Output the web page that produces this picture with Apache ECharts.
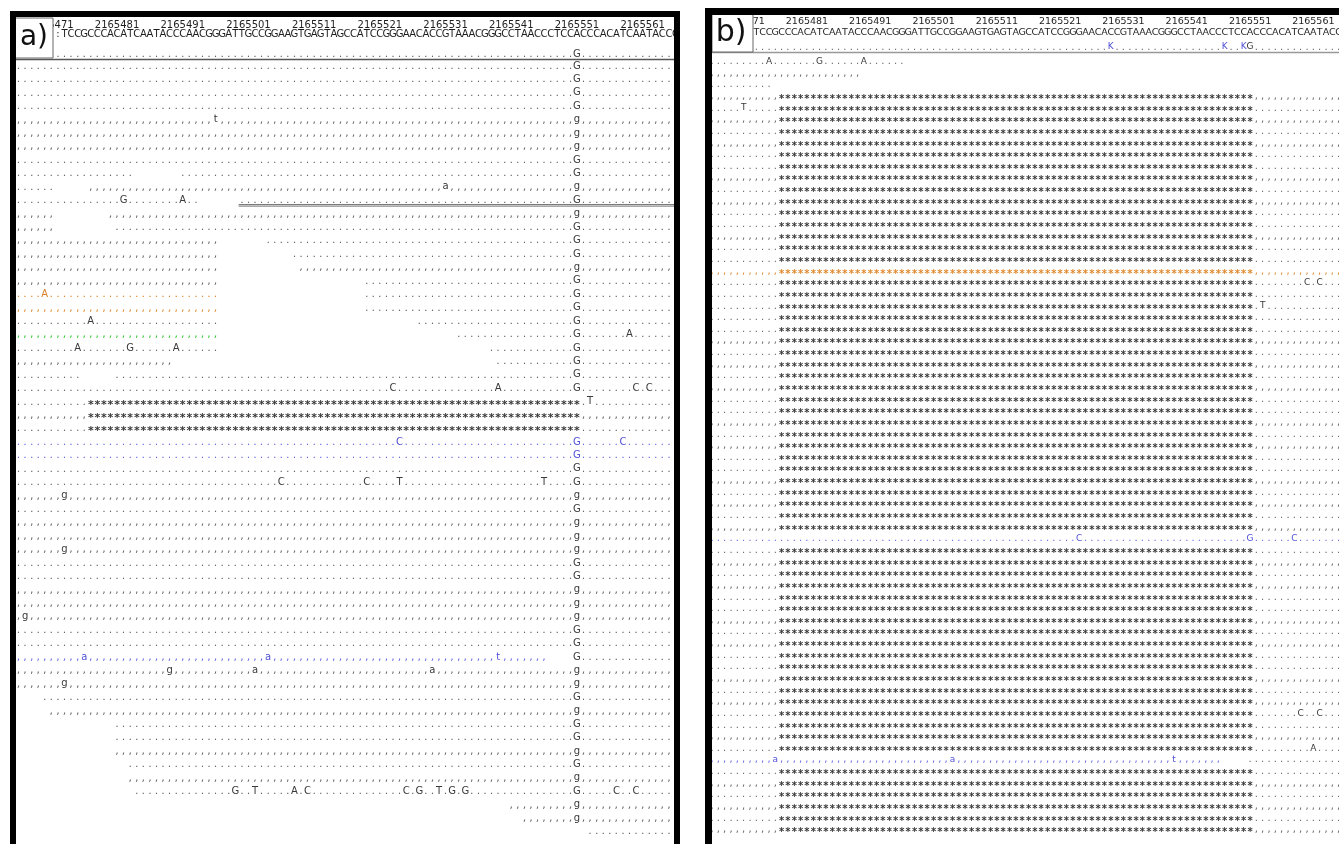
<!DOCTYPE html>
<html><head><meta charset="utf-8">
<script src="https://cdn.jsdelivr.net/npm/echarts@6/dist/echarts.min.js"></script>
<style>html,body{margin:0;padding:0;background:#fff}#c{width:1339px;height:844px}</style>
</head><body><div id="c"></div>
<script>
// ---------------- DATA ----------------
const firstPos = 2165466;               // genomic position of column 0
const tickPositions = [2165471,2165481,2165491,2165501,2165511,2165521,2165531,2165541,2165551,2165561];
const refSeqStartCol = 6;
const refSeq = ':TCCGCCCACATCAATACCCAACGGGATTGCCGGAAGTGAGTAGCCATCCGGGAACACCGTAAACGGGCCTAACCCTCCACCCACATCAATACCC';
const consensusA = {85:'G'};
const consensusB = {63:'K',81:'K',84:'K',85:'G'};

// reads: [row, startCol, endCol, strand(f='.' r=','), colour(k,o,b,g), mismatches]
const readsA = [
 [0,0,100,'f','k',{85:'G'}],[1,0,100,'f','k',{85:'G'}],[2,0,100,'f','k',{85:'G'}],[3,0,100,'f','k',{85:'G'}],
 [4,0,100,'r','k',{30:'t',85:'g'}],[5,0,100,'r','k',{85:'g'}],[6,0,100,'r','k',{85:'g'}],[7,0,100,'f','k',{85:'G'}],
 [8,0,17,'f','k',{}],[8,25,100,'f','k',{85:'G'}],
 [9,0,5,'f','k',{}],[9,11,100,'r','k',{65:'a',85:'g'}],
 [10,0,27,'f','k',{16:'G',25:'A'}],[10,34,100,'f','k',{85:'G'}],
 [11,0,5,'r','k',{}],[11,14,100,'r','k',{85:'g'}],
 [12,0,5,'r','k',{}],[12,15,100,'f','k',{85:'G'}],
 [13,0,30,'r','k',{}],[13,38,100,'f','k',{85:'G'}],
 [14,0,30,'r','k',{}],[14,42,100,'f','k',{85:'G'}],
 [15,0,30,'r','k',{}],[15,43,100,'r','k',{85:'g'}],
 [16,0,30,'r','k',{}],[16,53,100,'f','k',{85:'G'}],
 [17,0,30,'f','o',{4:'A'}],[17,53,100,'f','k',{85:'G'}],
 [18,0,30,'r','o',{}],[18,53,100,'f','k',{85:'G'}],
 [19,0,30,'f','k',{11:'A'}],[19,61,100,'f','k',{85:'G'}],
 [20,0,30,'r','g',{}],[20,67,100,'f','k',{85:'G',93:'A'}],
 [21,0,30,'f','k',{9:'A',17:'G',24:'A'}],[21,72,100,'f','k',{85:'G'}],
 [22,0,23,'r','k',{}],[22,73,100,'f','k',{85:'G'}],
 [23,0,9,'f','k',{}],[23,15,100,'f','k',{85:'G'}],
 [24,0,100,'f','k',{57:'C',73:'A',85:'G',94:'C',96:'C'}],
 [25,0,100,'f','k',{87:'T'}],[26,0,100,'r','k',{}],[27,0,100,'f','k',{}],
 [28,0,100,'f','b',{58:'C',85:'G',92:'C'}],[29,0,100,'f','b',{85:'G'}],
 [30,0,100,'f','k',{85:'G'}],
 [31,0,100,'f','k',{40:'C',53:'C',58:'T',80:'T',85:'G'}],
 [32,0,100,'r','k',{7:'g',85:'g'}],[33,0,100,'f','k',{85:'G'}],[34,0,100,'r','k',{85:'g'}],
 [35,0,100,'r','k',{85:'g'}],[36,0,100,'r','k',{7:'g',85:'g'}],[37,0,100,'f','k',{85:'G'}],
 [38,0,100,'f','k',{85:'G'}],[39,0,100,'r','k',{85:'g'}],[40,0,100,'r','k',{85:'g'}],
 [41,0,100,'r','k',{1:'g',85:'g'}],[42,0,100,'f','k',{85:'G'}],[43,0,100,'f','k',{85:'G'}],
 [44,0,80,'r','b',{10:'a',38:'a',73:'t'}],[44,85,100,'f','k',{85:'G'}],
 [45,0,100,'r','k',{23:'g',36:'a',63:'a',85:'g'}],[46,0,100,'r','k',{7:'g',85:'g'}],
 [47,4,100,'f','k',{85:'G'}],[48,5,100,'r','k',{85:'g'}],[49,15,100,'f','k',{85:'G'}],
 [50,15,100,'f','k',{85:'G'}],[51,15,100,'r','k',{85:'g'}],[52,17,100,'f','k',{85:'G'}],
 [53,17,100,'r','k',{85:'g'}],
 [54,18,100,'f','k',{33:'G',36:'T',42:'A',44:'C',59:'C',61:'G',64:'T',66:'G',68:'G',85:'G',91:'C',94:'C'}],
 [55,75,100,'r','k',{85:'g'}],[56,77,100,'r','k',{85:'g'}],[57,87,100,'f','k',{}]
];
// deletions: [row, startCol, endCol]
const delA = [[25,11,85],[26,11,85],[27,11,85]];
// underline marks: [row, startCol, endCol]
const underlineA = [[10,34,100]];

const readsB = [
 [0,0,30,'f','k',{9:'A',17:'G',24:'A'}],[1,0,23,'r','k',{}],[2,0,9,'f','k',{}],
 [3,0,99,'r','k',{}],[4,0,99,'f','k',{5:'T'}],[5,0,99,'r','k',{}],[6,0,99,'f','k',{}],
 [7,0,99,'r','k',{}],[8,0,99,'f','k',{}],[9,0,99,'f','k',{}],[10,0,99,'r','k',{}],
 [11,0,99,'f','k',{}],[12,0,99,'r','k',{}],[13,0,99,'f','k',{}],[14,0,99,'f','k',{}],
 [15,0,99,'r','k',{}],[16,0,99,'f','k',{}],[17,0,99,'f','k',{}],[18,0,99,'r','o',{}],
 [19,0,99,'f','k',{94:'C',96:'C'}],[20,0,99,'f','k',{}],[21,0,99,'f','k',{87:'T'}],
 [22,0,99,'f','k',{}],[23,0,99,'f','k',{}],[24,0,99,'r','k',{}],[25,0,99,'f','k',{}],
 [26,0,99,'r','k',{}],[27,0,99,'f','k',{}],[28,0,99,'r','k',{}],[29,0,99,'f','k',{}],
 [30,0,99,'f','k',{}],[31,0,99,'r','k',{}],[32,0,99,'f','k',{}],[33,0,99,'r','k',{}],
 [34,0,99,'f','k',{}],[35,0,99,'f','k',{}],[36,0,99,'r','k',{}],[37,0,99,'f','k',{}],
 [38,0,99,'r','k',{}],[39,0,99,'f','k',{}],[40,0,99,'r','k',{}],
 [41,0,99,'f','b',{58:'C',85:'G',92:'C'}],
 [42,0,99,'f','k',{}],[43,0,99,'r','k',{}],[44,0,99,'f','k',{}],[45,0,99,'r','k',{}],
 [46,0,99,'f','k',{}],[47,0,99,'f','k',{}],[48,0,99,'r','k',{}],[49,0,99,'f','k',{}],
 [50,0,99,'r','k',{}],[51,0,99,'f','k',{}],[52,0,99,'f','k',{}],[53,0,99,'r','k',{}],
 [54,0,99,'f','k',{}],[55,0,99,'r','k',{}],[56,0,99,'f','k',{93:'C',96:'C'}],
 [57,0,99,'f','k',{}],[58,0,99,'r','k',{}],[59,0,99,'f','k',{95:'A'}],
 [60,0,80,'r','b',{10:'a',38:'a',73:'t'}],[60,85,99,'f','k',{}],
 [61,0,99,'f','k',{}],[62,0,99,'r','k',{}],[63,0,99,'f','k',{}],[64,0,99,'r','k',{}],
 [65,0,99,'f','k',{}],[66,0,99,'r','k',{}]
];
// deletions in panel b: every full-length grey/orange read from row 3 on carries the same gap
const delB = readsB.filter(r=>r[0]>=3 && r[1]===0 && r[2]===99 && r[4]!=='b').map(r=>[r[0],11,85]);

// ---------------- BUILD ----------------
const COL = {k:{dot:'#686868',base:'#3a3a3a',del:'#383838'}, o:{dot:'#e08a30',base:'#d9822b',del:'#e08a30'},
             b:{dot:'#6a6ae6',base:'#5050d6',del:'#6a6ae6'}, g:{dot:'#30c830',base:'#2aa82a',del:'#30c830'}};
function build(reads, dels){
  const out=[];
  for(const r of reads){
    const [row,s,e,st,col,mm]=r;
    for(let c=s;c<=e;c++){
      const inDel=dels.some(d=>d[0]===row&&c>=d[1]&&c<=d[2]);
      let ch, kind;
      if(inDel){ch='*';kind='del';}
      else if(mm[c]){ch=mm[c];kind='base';}
      else {ch= st==='f'?'.':',';kind='dot';}
      out.push([c,row,ch,COL[col][kind],kind]);
    }
  }
  return out;
}
const charsA = build(readsA, delA);
const charsB = build(readsB, delB);
function header(consensus, seqRow, consRow, tickRow, lastCol){
  const out=[];
  for(let i=0;i<refSeq.length;i++){const c=refSeqStartCol+i; if(c<=lastCol) out.push([c,seqRow,refSeq[i],'#1e1e1e','seq']);}
  for(let c=refSeqStartCol;c<=lastCol;c++){
    const ch=consensus[c]||'.';
    const color = (ch==='K')?'#5050d6':(consensus[c]?'#3a3a3a':'#686868');
    out.push([c,consRow,ch,color,consensus[c]?'base':'dot']);
  }
  for(const p of tickPositions){out.push([p-firstPos,tickRow,String(p),'#1e1e1e','tick']);}
  return out;
}
const headA = header(consensusA,-2.35,-0.9,-3.05,100);
const headB = header(consensusB,-2.45,-1.25,-3.4,99);

function textSeries(idx, arr, fs, tickFs, seqFs){
  return {
    type:'custom', xAxisIndex:idx, yAxisIndex:idx, silent:true, animation:false, progressive:0, clip:false,
    data: arr.map(d=>[d[0],d[1]]),
    renderItem:function(params, api){
      const d=arr[params.dataIndex];
      const p=api.coord([d[0],d[1]]);
      let size=fs, weight='normal', dy=0;
      if(d[4]==='tick') size=tickFs;
      else if(d[4]==='seq') size=seqFs;
      else if(d[4]==='del'){weight='bold'; dy=3; size=fs+1;}
      else if(d[4]==='dot'){size=fs+1;}
      return {type:'text', x:p[0], y:p[1]+dy, silent:true,
        style:{text:d[2], fill:d[3], font:weight+' '+size+'px "DejaVu Sans"', align:'center', verticalAlign:'middle'}};
    }
  };
}
function lineSeries(idx, arr){
  return {type:'custom', xAxisIndex:idx, yAxisIndex:idx, silent:true, animation:false, clip:false,
    data: arr.map(d=>[d[1],d[0]]),
    renderItem:function(params, api){
      const d=arr[params.dataIndex];
      const a=api.coord([d[1]-0.5,d[0]+0.33]), b=api.coord([d[2]+0.5,d[0]+0.33]);
      return {type:'group',children:[
        {type:'line',shape:{x1:a[0],y1:a[1],x2:b[0],y2:b[1]},style:{stroke:'#555',lineWidth:1}},
        {type:'line',shape:{x1:a[0],y1:a[1]+1.5,x2:b[0],y2:b[1]+1.5},style:{stroke:'#888',lineWidth:1}}]};
    }};
}

const chart = echarts.init(document.getElementById('c'), null, {renderer:'canvas'});
const axX = (gi,mn,mx)=>({type:'value', gridIndex:gi, min:mn, max:mx, show:false});
const axY = (gi,mn,mx)=>({type:'value', gridIndex:gi, min:mn, max:mx, inverse:true, show:false});
chart.setOption({
  animation:false,
  backgroundColor:'#fff',
  // panel a: column c at x = 18.5 + 6.57c, row k at y = 66 + 13.43k
  // panel b: column c at x = 712 + 6.33c,  row k at y = 61.5 + 11.64k
  grid:[{left:5.36, top:12.28, width:683.28, height:825.95},
        {left:699.34, top:3.3, width:633, height:832.26}],
  xAxis:[axX(0,-2,102),axX(1,-2,98)],
  yAxis:[axY(0,-4,57.5),axY(1,-5,66.5)],
  series:[
    textSeries(0, headA, 10, 10, 10),
    textSeries(0, charsA, 10, 10, 10),
    lineSeries(0, underlineA),
    textSeries(1, headB, 9, 9.5, 9.5),
    textSeries(1, charsB, 9, 9, 9)
  ],
  graphic:[
    {type:'line', z:50, shape:{x1:15,y1:59.5,x2:675,y2:59.5}, style:{stroke:'#555',lineWidth:1.5}},
    {type:'line', z:50, shape:{x1:712,y1:52.5,x2:1339,y2:52.5}, style:{stroke:'#999',lineWidth:1.5}},
    {type:'rect', z:60, shape:{x:14,y:18,width:39,height:40}, style:{fill:'#fff',stroke:'#666',lineWidth:1}},
    {type:'text', z:61, x:34, y:38, style:{text:'a)', font:'28px "DejaVu Sans"', fill:'#111', align:'center', verticalAlign:'middle'}},
    {type:'rect', z:60, shape:{x:712,y:14,width:41,height:38}, style:{fill:'#fff',stroke:'#666',lineWidth:1}},
    {type:'text', z:61, x:731, y:33, style:{text:'b)', font:'30px "DejaVu Sans"', fill:'#111', align:'center', verticalAlign:'middle'}},
    {type:'rect', z:70, shape:{x:13,y:14,width:664,height:900}, style:{fill:'none',stroke:'#000',lineWidth:6}},
    {type:'rect', z:70, shape:{x:708.5,y:11.5,width:700,height:900}, style:{fill:'none',stroke:'#000',lineWidth:7}}
  ]
});
</script></body></html>
